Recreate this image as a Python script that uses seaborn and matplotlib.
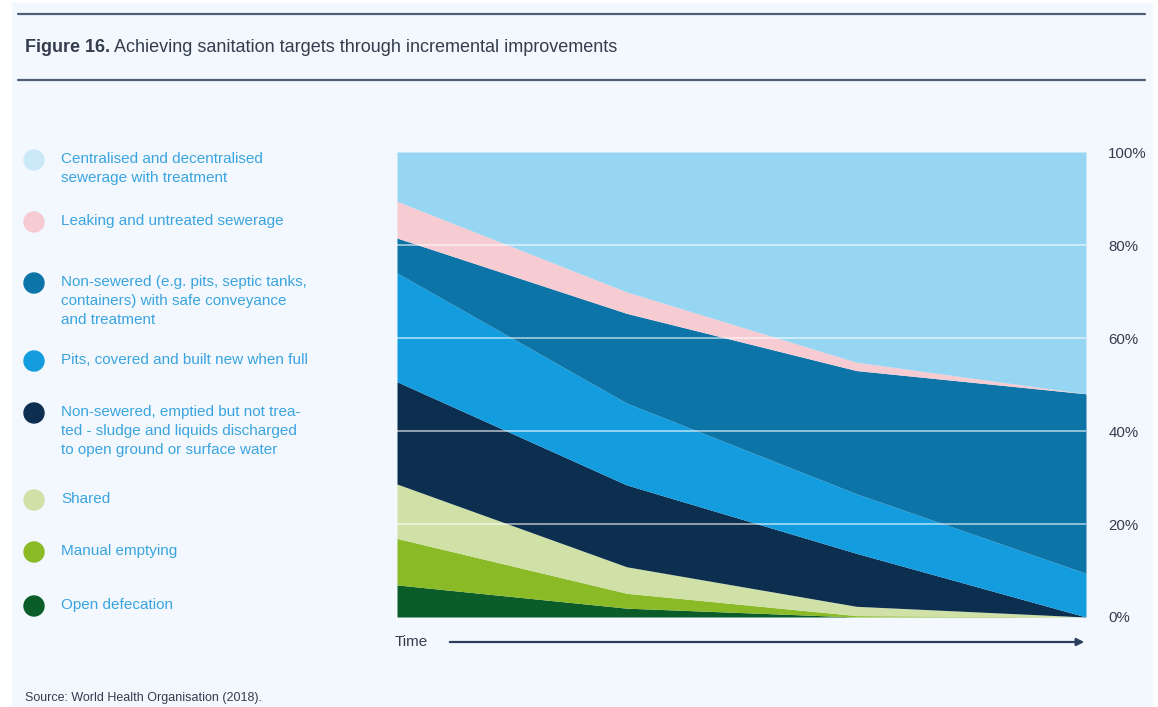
import numpy as np
import pandas as pd
import seaborn as sns
import matplotlib.pyplot as plt
from matplotlib.patches import Circle, Rectangle

# dati (quota % per categoria, 4 istanti temporali)
time_points = [0, 1, 2, 3]
open_defecation = [6.9, 1.9, 0.0, 0.0]
manual_emptying = [10.0, 3.2, 0.3, 0.0]
shared = [11.7, 5.7, 2.0, 0.0]
emptied_untreated = [22.0, 17.6, 11.4, 0.0]
pits_new = [23.4, 17.6, 12.8, 9.4]
nonsewered_safe = [7.5, 19.3, 26.5, 38.6]
leaking_sewerage = [7.9, 4.6, 1.8, 0.0]
sewerage_treated = [10.6, 30.1, 45.2, 52.0]

labels = [
    "Centralised and decentralised\nsewerage with treatment",
    "Leaking and untreated sewerage",
    "Non-sewered (e.g. pits, septic tanks,\ncontainers) with safe conveyance\nand treatment",
    "Pits, covered and built new when full",
    "Non-sewered, emptied but not trea-\nted - sludge and liquids discharged\nto open ground or surface water",
    "Shared",
    "Manual emptying",
    "Open defecation",
]
colors = ["#97d6f2", "#f6cbd2", "#0d74a8", "#139ddf", "#0d2f4f", "#cfe1a6", "#8aba26", "#0a5c28"]
legend_colors = ["#cce9f8", "#f6cbd2", "#0d74a8", "#139ddf", "#0d2f4f", "#cfe1a6", "#8aba26", "#0a5c28"]
ytick_labels = ["0%", "20%", "40%", "60%", "80%", "100%"]

df = pd.DataFrame({
    "time": time_points,
    "open": open_defecation,
    "manual": manual_emptying,
    "shared": shared,
    "emptied": emptied_untreated,
    "pits": pits_new,
    "safe": nonsewered_safe,
    "leaking": leaking_sewerage,
    "sewerage": sewerage_treated,
})

sns.set_theme(style="white")
plt.rcParams["font.family"] = ["Liberation Sans", "DejaVu Sans"]

W, H = 1158, 707
fig = plt.figure(figsize=(W / 100, H / 100), dpi=100)
fig.patch.set_facecolor("white")

# asse di sfondo in pixel
bg = fig.add_axes([0, 0, 1, 1])
bg.set_xlim(0, W)
bg.set_ylim(H, 0)
bg.axis("off")
bg.add_patch(Rectangle((12, 3), 1140, 702, color="#f3f8fe", zorder=0))
bg.plot([18, 1145], [14, 14], color="#4f5d77", lw=1.6)
bg.plot([18, 1145], [80, 80], color="#4f5d77", lw=1.6)

t1 = bg.text(25, 47, "Figure 16.", fontsize=13, fontweight="bold", color="#333d4d", va="center")
fig.canvas.draw()
bb = t1.get_window_extent().transformed(bg.transData.inverted())
bg.text(bb.x1 + 4, 47, "Achieving sanitation targets through incremental improvements",
        fontsize=13, color="#333d4d", va="center")

# legenda manuale
legend_y = [160, 222, 283, 361, 413, 500, 552, 606]
for lab, col, y in zip(labels, legend_colors, legend_y):
    bg.add_patch(Circle((34, y), 10, color=col, zorder=3))
    bg.text(61, y - 8, lab, fontsize=11, color="#3aa4df", va="top", ha="left",
            linespacing=1.45)

bg.text(25, 698, "Source: World Health Organisation (2018).", fontsize=9, color="#333d4d", va="center")

# freccia del tempo
bg.text(395, 642, "Time", fontsize=11, color="#333d4d", va="center")
bg.annotate("", xy=(1087, 642), xytext=(447, 642),
            arrowprops=dict(arrowstyle="-|>", color="#2b3f5c", lw=1.6, mutation_scale=11))

# grafico ad area impilata
ax = fig.add_axes([397 / W, 1 - 617 / H, 689 / W, 465 / H])
ax.set_facecolor("none")
series = [df["open"], df["manual"], df["shared"], df["emptied"], df["pits"],
          df["safe"], df["leaking"], df["sewerage"]]
ax.stackplot(df["time"], *series, colors=colors[::-1], linewidth=0)
ax.set_xlim(0, 3)
ax.set_ylim(0, 100)
for v in [20, 40, 60, 80]:
    ax.axhline(v, color="white", alpha=0.55, lw=1.4, zorder=5)
ax.set_xticks([])
ax.yaxis.tick_right()
ax.set_yticks([0, 20, 40, 60, 80, 100])
ax.set_yticklabels(ytick_labels, fontsize=10.8, color="#333d4d")
ax.tick_params(axis="y", length=0, pad=16)
for s in ax.spines.values():
    s.set_visible(False)

plt.savefig("out.png", dpi=100, facecolor=fig.get_facecolor())
